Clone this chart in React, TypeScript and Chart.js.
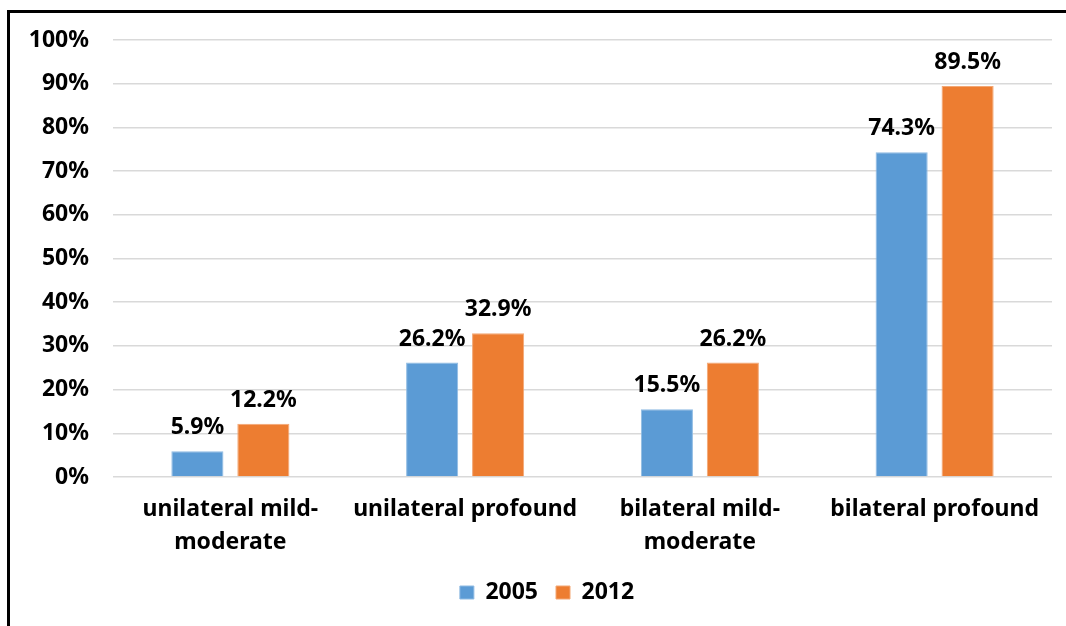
import React, { useEffect, useRef } from "react";
import { Chart, registerables } from "chart.js";

Chart.register(...registerables);

const categories: (string | string[])[] = [
  ["unilateral mild-", "moderate"],
  "unilateral profound",
  ["bilateral mild-", "moderate"],
  "bilateral profound",
];
const series2005 = [5.9, 26.2, 15.5, 74.3];
const series2012 = [12.2, 32.9, 26.2, 89.5];
const seriesNames = ["2005", "2012"];

const FONT = "'Noto Sans', 'Open Sans', sans-serif";
const FS = 23;

const valueLabels = {
  id: "valueLabels",
  afterDatasetsDraw(chart: any) {
    const ctx = chart.ctx;
    ctx.save();
    ctx.font = `bold ${FS}px ${FONT}`;
    ctx.fillStyle = "#000";
    ctx.textAlign = "center";
    ctx.textBaseline = "alphabetic";
    chart.data.datasets.forEach((ds: any, i: number) => {
      const meta = chart.getDatasetMeta(i);
      meta.data.forEach((bar: any, j: number) => {
        const v = ds.data[j] as number;
        ctx.fillText(v.toFixed(1) + "%", bar.x, bar.y - 17);
      });
    });
    ctx.restore();
  },
};

export default function App() {
  const ref = useRef<HTMLCanvasElement>(null);
  useEffect(() => {
    if (!ref.current) return;
    const chart = new Chart(ref.current, {
      type: "bar",
      data: {
        labels: categories,
        datasets: [
          {
            label: seriesNames[0],
            data: series2005,
            backgroundColor: "#5b9bd5",
            borderColor: "#8fbbe3",
            borderWidth: 1,
            categoryPercentage: 0.562,
            barPercentage: 0.79,
          },
          {
            label: seriesNames[1],
            data: series2012,
            backgroundColor: "#ed7d31",
            borderColor: "#f3a774",
            borderWidth: 1,
            categoryPercentage: 0.562,
            barPercentage: 0.79,
          },
        ],
      },
      options: {
        responsive: false,
        animation: false,
        layout: { padding: { top: 27, right: 0, bottom: 12, left: 18 } },
        plugins: {
          legend: {
            position: "bottom",
            labels: {
              color: "#000",
              font: { family: FONT, size: FS, weight: "bold" },
              boxWidth: 14,
              boxHeight: 13,
              padding: 18,
            },
          },
          tooltip: { enabled: false },
        },
        scales: {
          x: {
            grid: { display: false, drawTicks: false },
            border: { display: false },
            ticks: {
              color: "#000",
              font: { family: FONT, size: FS, weight: "bold", lineHeight: 1.42 },
              padding: 16,
              maxRotation: 0,
              autoSkip: false,
            },
            afterFit(scale: any) {
              scale.height = 86;
            },
          },
          y: {
            min: 0,
            max: 100,
            grid: { color: "#d9d9d9", lineWidth: 1.5, drawTicks: false },
            border: { display: false },
            ticks: {
              stepSize: 10,
              color: "#000",
              font: { family: FONT, size: FS, weight: "bold" },
              padding: 24,
              callback: (v: any) => v + "%",
            },
            afterFit(scale: any) {
              scale.width = 85;
              scale.paddingTop = 0;
              scale.paddingBottom = 0;
            },
          },
          yRight: {
            type: "linear",
            position: "right",
            display: true,
            grid: { display: false, drawTicks: false },
            border: { display: false },
            ticks: { display: false },
            afterFit(scale: any) {
              scale.width = 14;
              scale.paddingTop = 0;
              scale.paddingBottom = 0;
            },
          },
        },
      },
      plugins: [valueLabels],
    });
    return () => chart.destroy();
  }, []);

  return (
    <div
      style={{
        position: "absolute",
        left: 7,
        top: 10,
        width: 1056,
        height: 613,
        borderLeft: "3px solid #000",
        borderTop: "3px solid #000",
        background: "#fff",
        overflow: "hidden",
      }}
    >
      <canvas ref={ref} width={1056} height={613} style={{ display: "block" }} />
    </div>
  );
}
